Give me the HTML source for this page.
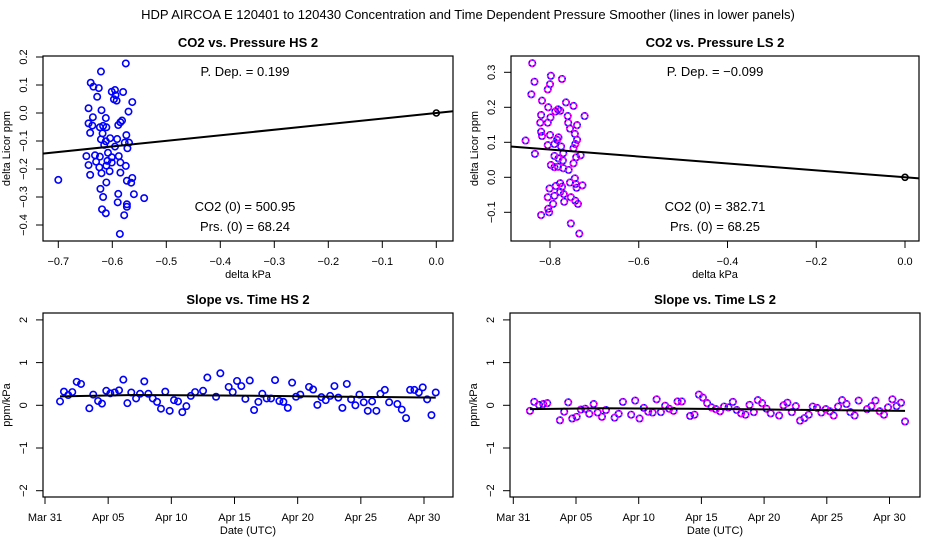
<!DOCTYPE html>
<html><head><meta charset="utf-8"><style>
body{margin:0;background:#fff}
svg{display:block;font-family:"Liberation Sans",sans-serif}
</style></head><body>
<svg id="c" width="936" height="540" viewBox="0 0 936 540" xmlns="http://www.w3.org/2000/svg">
<text x="468" y="19" font-size="13" text-anchor="middle">HDP   AIRCOA E   120401 to 120430   Concentration and Time Dependent Pressure Smoother (lines in lower panels)</text>
</svg>
<script>
// ---- data: top-left (HS) scatter ----
const hsDx=[-0.575,-0.621,-0.640,-0.635,-0.625,-0.595,-0.580,-0.594,-0.628,-0.597,-0.592,-0.563,-0.644,-0.620,-0.570,-0.636,-0.612,-0.644,-0.637,-0.617,-0.585,-0.582,-0.589,-0.623,-0.611,-0.641,-0.618,-0.574,-0.621,-0.604,-0.591,-0.577,-0.569,-0.612,-0.615,-0.595,-0.572,-0.608,-0.648,-0.632,-0.623,-0.588,-0.601,-0.630,-0.609,-0.601,-0.585,-0.644,-0.611,-0.575,-0.624,-0.605,-0.620,-0.641,-0.585,-0.700,-0.573,-0.563,-0.565,-0.611,-0.622,-0.617,-0.589,-0.560,-0.541,-0.590,-0.573,-0.573,-0.619,-0.612,-0.578,-0.586,-0.601];
const hsDy=[0.177,0.148,0.108,0.094,0.089,0.082,0.075,0.064,0.058,0.049,0.044,0.039,0.017,0.010,0.005,-0.015,-0.018,-0.037,-0.045,-0.046,-0.033,-0.027,-0.043,-0.051,-0.051,-0.071,-0.073,-0.079,-0.094,-0.090,-0.093,-0.106,-0.106,-0.101,-0.114,-0.120,-0.126,-0.142,-0.154,-0.151,-0.156,-0.154,-0.158,-0.174,-0.171,-0.177,-0.177,-0.186,-0.188,-0.189,-0.194,-0.208,-0.215,-0.221,-0.213,-0.239,-0.242,-0.232,-0.249,-0.248,-0.271,-0.300,-0.289,-0.290,-0.304,-0.319,-0.326,-0.335,-0.344,-0.358,-0.365,-0.432,0.076];
const hsSlope=0.199;
// ---- data: top-right (LS) scatter ----
const lsDx=[-0.840,-0.798,-0.773,-0.835,-0.800,-0.805,-0.842,-0.818,-0.764,-0.747,-0.804,-0.782,-0.788,-0.777,-0.760,-0.722,-0.820,-0.799,-0.822,-0.805,-0.759,-0.739,-0.755,-0.820,-0.800,-0.818,-0.744,-0.781,-0.784,-0.739,-0.855,-0.790,-0.743,-0.805,-0.775,-0.747,-0.834,-0.770,-0.731,-0.790,-0.781,-0.741,-0.771,-0.747,-0.798,-0.790,-0.782,-0.770,-0.758,-0.744,-0.755,-0.777,-0.742,-0.727,-0.787,-0.773,-0.740,-0.801,-0.777,-0.790,-0.805,-0.769,-0.753,-0.768,-0.743,-0.793,-0.737,-0.804,-0.802,-0.820,-0.753,-0.734];
const lsDy=[0.326,0.290,0.281,0.273,0.266,0.251,0.237,0.219,0.214,0.204,0.200,0.194,0.188,0.190,0.175,0.175,0.178,0.171,0.156,0.156,0.156,0.149,0.139,0.130,0.121,0.118,0.124,0.114,0.107,0.107,0.105,0.095,0.095,0.092,0.088,0.083,0.067,0.069,0.063,0.061,0.054,0.057,0.048,0.040,0.035,0.029,0.030,0.026,0.021,-0.003,-0.015,-0.017,-0.019,-0.023,-0.025,-0.027,-0.030,-0.032,-0.042,-0.053,-0.057,-0.048,-0.057,-0.070,-0.067,-0.076,-0.076,-0.090,-0.100,-0.108,-0.132,-0.161];
const lsSlope=-0.099;
// ---- data: bottom-left slope vs time (days after Mar 31) ----
const hsT=[1.19,1.50,1.84,2.16,2.51,2.85,3.51,3.82,4.20,4.51,4.85,5.17,5.52,5.86,6.20,6.52,6.83,7.21,7.52,7.86,8.18,8.53,8.87,9.18,9.52,9.87,10.21,10.53,10.87,11.19,11.54,11.88,12.51,12.85,13.54,13.88,14.54,14.86,15.20,15.54,15.86,16.21,16.55,16.89,17.20,17.55,17.89,18.21,18.55,18.87,19.22,19.56,19.87,20.21,20.90,21.22,21.56,21.88,22.22,22.57,22.91,23.22,23.54,23.89,24.23,24.57,24.89,25.23,25.55,25.89,26.23,26.55,26.90,27.24,27.89,28.24,28.58,28.90,29.24,29.59,29.90,30.25,30.59,30.93];
const hsS=[0.09,0.32,0.24,0.31,0.55,0.50,-0.07,0.25,0.10,0.04,0.34,0.28,0.30,0.35,0.60,0.05,0.30,0.16,0.27,0.56,0.27,0.16,0.08,-0.08,0.32,-0.13,0.12,0.09,-0.16,-0.02,0.22,0.31,0.34,0.65,0.20,0.75,0.43,0.31,0.57,0.45,0.15,0.58,-0.11,0.08,0.27,0.16,0.16,0.59,0.10,0.08,-0.06,0.53,0.20,0.25,0.43,0.37,0.01,0.19,0.12,0.22,0.45,0.18,-0.06,0.50,0.14,0.00,0.25,0.07,-0.13,0.09,-0.13,0.27,0.36,0.07,0.03,-0.10,-0.30,0.36,0.36,0.30,0.42,0.14,-0.23,0.30];
const hsLineT=[1.19,7,14,21,30.93];
const hsLineV=[0.21,0.24,0.23,0.21,0.18];
// ---- data: bottom-right ----
const lsT=[1.33,1.67,2.05,2.39,2.71,3.72,4.06,4.38,4.70,5.05,5.39,5.74,6.06,6.41,6.73,7.07,7.39,8.08,8.40,8.74,9.40,9.72,10.07,10.41,10.76,11.11,11.43,11.77,12.11,12.43,12.78,13.10,13.44,14.10,14.45,14.80,15.12,15.46,15.81,16.15,16.49,16.81,17.16,17.51,17.82,18.17,18.52,18.84,19.18,19.50,19.84,20.19,20.53,21.20,21.55,21.86,22.21,22.53,22.87,23.22,23.56,23.88,24.22,24.57,24.92,25.24,25.55,25.90,26.22,26.57,26.88,27.22,27.54,28.21,28.56,28.88,29.22,29.56,29.88,30.23,30.57,30.92,31.24];
const lsS=[-0.13,0.08,0.01,0.03,0.05,-0.35,-0.15,0.07,-0.31,-0.27,-0.10,-0.08,-0.20,0.03,-0.17,-0.27,-0.11,-0.29,-0.20,0.08,-0.22,0.11,-0.31,-0.06,-0.15,-0.17,0.14,-0.16,-0.01,-0.08,-0.13,0.09,0.09,-0.25,-0.22,0.25,0.18,0.05,-0.05,-0.09,-0.14,-0.03,-0.05,0.08,-0.11,-0.19,-0.22,0.01,-0.16,0.12,0.05,-0.08,-0.19,-0.24,0.00,0.06,-0.16,-0.02,-0.36,-0.30,-0.22,-0.03,-0.06,-0.17,-0.09,-0.14,-0.24,-0.03,0.12,0.03,-0.16,-0.24,0.11,-0.09,-0.02,0.11,-0.14,-0.22,-0.05,0.14,-0.02,0.06,-0.38];
const lsLineT=[1.33,7,14,21,31.24];
const lsLineV=[-0.09,-0.07,-0.08,-0.10,-0.13];
const xTicksTL=[-0.7,-0.6,-0.5,-0.4,-0.3,-0.2,-0.1,0.0];
const yTicksTL=[0.2,0.1,0.0,-0.1,-0.2,-0.3,-0.4];
const xTicksTR=[-0.8,-0.6,-0.4,-0.2,0.0];
const yTicksTR=[0.3,0.2,0.1,0.0,-0.1];
const yTicksB=[2,1,0,-1,-2];
const dateTicks=[0,5,10,15,20,25,30];
const dateLabels=['Mar 31','Apr 05','Apr 10','Apr 15','Apr 20','Apr 25','Apr 30'];

const svg=document.getElementById('c');
const NS='http://www.w3.org/2000/svg';
function mk(tag,attrs,parent){const e=document.createElementNS(NS,tag);for(const k in attrs)e.setAttribute(k,attrs[k]);(parent||svg).appendChild(e);return e;}
function lin(d0,d1,p0,p1){return v=>p0+(v-d0)*(p1-p0)/(d1-d0);}

function panel(o){
  const g=mk('g',{});
  
  
  const X=o.X,Y=o.Y;
  const t=mk('text',{x:(o.x0+o.x1)/2,y:o.y0-9,'font-size':13,'font-weight':'bold','text-anchor':'middle'},g);
  t.textContent=o.title;
  
  
  const box=mk('rect',{x:o.x0,y:o.y0,width:o.x1-o.x0,height:o.y1-o.y0,fill:'none',stroke:'#000','stroke-width':1.2},g);
  
  
  o.xt.forEach((v,i)=>{const px=X(v);
    mk('line',{x1:px,x2:px,y1:o.y1,y2:o.y1+7,stroke:'#000'},g);
    const l=mk('text',{x:px,y:o.y1+24,'font-size':11,'text-anchor':'middle'},g);
    l.textContent=o.xl?o.xl[i]:(v===0?'0.0':v.toFixed(1).replace('-','\u2212'));
    
    
  });
  o.yt.forEach(v=>{const py=Y(v);
    mk('line',{x1:o.x0-7,x2:o.x0,y1:py,y2:py,stroke:'#000'},g);
    const l=mk('text',{x:o.x0-16,y:py,'font-size':11,'text-anchor':'middle',transform:`rotate(-90 ${o.x0-16} ${py})`},g);
    l.textContent=o.yfmt(v);
    
    
  });
  const xl=mk('text',{x:(o.x0+o.x1)/2,y:o.y1+37,'font-size':11,'text-anchor':'middle'},g);
  xl.textContent=o.xlab;
  
  
  const yx=o.x0-33,yy=(o.y0+o.y1)/2;
  const yl=mk('text',{x:yx,y:yy,'font-size':11,'text-anchor':'middle',transform:`rotate(-90 ${yx} ${yy})`},g);
  yl.textContent=o.ylab;
  
  
  const cg=mk('g',{'clip-path':''},g);
  return g;
}
function pts(g,xs,ys,X,Y,magenta,name){
  xs.forEach((v,i)=>{const cx=X(v),cy=Y(ys[i]);
    const c=mk('circle',{cx:cx,cy:cy,r:3.2,fill:'none',stroke:magenta?'#0000ff':'#0000ff','stroke-width':1.6},g);
    
    
    if(magenta){const m=mk('circle',{cx:cx,cy:cy,r:3.2,fill:'none',stroke:'#ff00ff','stroke-width':1.6,'stroke-dasharray':'2.5 1.5'},g);
      
      }
  });
}
function fmt1(v){return v===0?'0.0':v.toFixed(1).replace('-','\u2212');}
function fmt0(v){return String(v).replace('-','\u2212');}

// Top-left
{const o={name:'panel-co2-pressure-hs',title:'CO2 vs. Pressure HS 2',x0:43,x1:453,y0:56,y1:241,
  X:lin(-0.7,0,58.3,436.3),Y:lin(0.1,0,85,113),xt:xTicksTL,yt:yTicksTL,yfmt:fmt1,xlab:'delta kPa',ylab:'delta Licor ppm'};
 const g=panel(o);
 pts(g,hsDx,hsDy,o.X,o.Y,false,'hs-point');
 const xa=-0.729,xb=0.031;
 const ln=mk('line',{x1:o.X(xa),y1:o.Y(hsSlope*xa),x2:o.X(xb),y2:o.Y(hsSlope*xb),stroke:'#000','stroke-width':2},g);
 
 
 const z=mk('circle',{cx:o.X(0),cy:o.Y(0),r:3,fill:'none',stroke:'#000','stroke-width':1.6},g);
 
 
 [['P. Dep. =  0.199',76],['CO2 (0) =  500.95',211],['Prs. (0) =  68.24',231]].forEach(a=>{
  const t=mk('text',{x:245,y:a[1],'font-size':13,'text-anchor':'middle','xml:space':'preserve'},g);t.textContent=a[0];
  
  });
}
// Top-right
{const o={name:'panel-co2-pressure-ls',title:'CO2 vs. Pressure LS 2',x0:511,x1:919,y0:56,y1:241,
  X:lin(-0.8,0,550,905),Y:lin(0.1,0,142.3,177.3),xt:xTicksTR,yt:yTicksTR,yfmt:fmt1,xlab:'delta kPa',ylab:'delta Licor ppm'};
 const g=panel(o);
 pts(g,lsDx,lsDy,o.X,o.Y,true,'ls-point');
 const xa=-0.889,xb=0.032;
 const ln=mk('line',{x1:o.X(xa),y1:o.Y(lsSlope*xa),x2:o.X(xb),y2:o.Y(lsSlope*xb),stroke:'#000','stroke-width':2},g);
 
 
 const z=mk('circle',{cx:o.X(0),cy:o.Y(0),r:3,fill:'none',stroke:'#000','stroke-width':1.6},g);
 
 
 [['P. Dep. =  \u22120.099',76],['CO2 (0) =  382.71',211],['Prs. (0) =  68.25',231]].forEach(a=>{
  const t=mk('text',{x:715,y:a[1],'font-size':13,'text-anchor':'middle','xml:space':'preserve'},g);t.textContent=a[0];
  
  });
}
// Bottom-left
{const o={name:'panel-slope-time-hs',title:'Slope vs. Time HS 2',x0:43,x1:453,y0:313,y1:497,
  X:lin(0,30,45,424),Y:lin(0,1,405.3,362.6),xt:dateTicks,xl:dateLabels,yt:yTicksB,yfmt:fmt0,xlab:'Date (UTC)',ylab:'ppm/kPa'};
 const g=panel(o);
 pts(g,hsT,hsS,o.X,o.Y,false,'hs-slope-point');
 const p=mk('polyline',{points:hsLineT.map((t,i)=>o.X(t)+','+o.Y(hsLineV[i])).join(' '),fill:'none',stroke:'#000','stroke-width':2},g);
 
 
}
// Bottom-right
{const o={name:'panel-slope-time-ls',title:'Slope vs. Time LS 2',x0:510,x1:920,y0:313,y1:497,
  X:lin(0,5,513.3,576),Y:lin(0,1,405.3,362.6),xt:dateTicks,xl:dateLabels,yt:yTicksB,yfmt:fmt0,xlab:'Date (UTC)',ylab:'ppm/kPa'};
 const g=panel(o);
 pts(g,lsT,lsS,o.X,o.Y,true,'ls-slope-point');
 const p=mk('polyline',{points:lsLineT.map((t,i)=>o.X(t)+','+o.Y(lsLineV[i])).join(' '),fill:'none',stroke:'#000','stroke-width':2},g);
 
 
}
</script>
</body></html>
